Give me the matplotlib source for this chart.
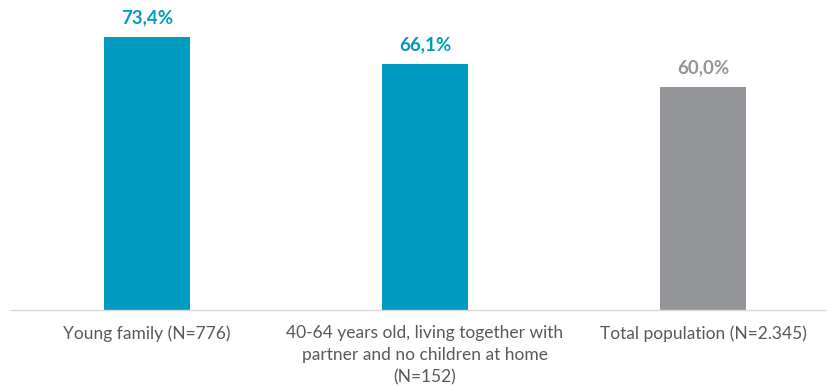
import matplotlib.pyplot as plt

categories = ["Young family (N=776)",
              "40-64 years old, living together with\npartner and no children at home\n(N=152)",
              "Total population (N=2.345)"]
values = [73.4, 66.1, 60.0]
labels = ["73,4%", "66,1%", "60,0%"]
colors = ["#009BC1", "#009BC1", "#939598"]

plt.rcParams['font.family'] = ['Lato', 'DejaVu Sans']

fig = plt.figure(figsize=(8.33, 3.9), dpi=100)
ax = fig.add_axes([10/833, 80/390, 815/833, 310/390])

x = range(len(values))
ax.bar(x, values, width=0.31, color=colors)
for i, v in enumerate(values):
    ax.text(i, v + 2.8, labels[i], ha="center", va="bottom", fontsize=13.5,
            fontweight="bold", color=colors[i])

ax.set_xlim(-0.4928, 2.4388)
ax.set_ylim(0, 83.3)
ax.set_xticks(list(x))
ax.set_xticklabels(categories, fontsize=12.5, color="#595959", linespacing=1.45)
ax.tick_params(axis="x", length=0, pad=11)
ax.set_yticks([])
for s in ["top", "right", "left"]:
    ax.spines[s].set_visible(False)
ax.spines["bottom"].set_color("#d9d9d9")
ax.spines["bottom"].set_linewidth(1)

fig.savefig("out.png", dpi=100)
